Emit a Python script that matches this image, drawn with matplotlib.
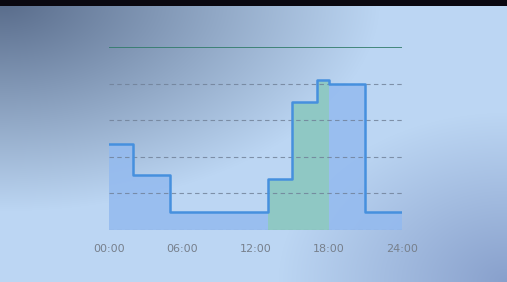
import numpy as np
import matplotlib.pyplot as plt

# step values (hour where each step starts, value)
hours = [0, 2, 5, 13, 15, 17, 18, 21, 24]
values = [2.35, 1.5, 0.5, 1.4, 3.5, 4.1, 4.0, 0.5, 0.5]
peak_start = 13
peak_end = 18
tick_hours = [0, 6, 12, 18, 24]
tick_labels = ['00:00', '06:00', '12:00', '18:00', '24:00']
grid_levels = [0, 1, 2, 3, 4]
top_level = 5

fig = plt.figure(figsize=(5.07, 2.82), dpi=100)

# background gradient
bg = fig.add_axes([0, 0, 1, 1])
h, w = 282, 507
yy, xx = np.mgrid[0:1:h * 1j, 0:1:w * 1j]
base = np.array([0xbc, 0xd6, 0xf3]) / 255
dark = np.array([0x58, 0x6b, 0x8a]) / 255
br = np.array([0x88, 0xa0, 0xcc]) / 255
d_tl = np.clip(1 - np.sqrt((xx / 0.75) ** 2 + (yy / 0.75) ** 2), 0, 1)[..., None]
d_br = np.clip(1 - np.sqrt(((1 - xx) / 0.45) ** 2 + ((1 - yy) / 0.6) ** 2), 0, 1)[..., None]
img = base * (1 - d_tl) + dark * d_tl
img = img * (1 - d_br) + br * d_br
img[:6] = np.array([0x0a, 0x08, 0x10]) / 255
bg.imshow(img, aspect='auto', extent=[0, 1, 0, 1], origin='upper')
bg.axis('off')

ax = fig.add_axes([109 / 507, 52 / 282, 293 / 507, 183 / 282])
ax.patch.set_alpha(0)

x = np.array(hours)
y = np.array(values)
ax.fill_between(x, y, step='post', color='#93baef', alpha=0.85, lw=0, zorder=2)
mask = (x >= peak_start) & (x <= peak_end)
ax.fill_between(x, y, where=mask, step='post', color='#8fc8c4', lw=0, zorder=3)

for lv in grid_levels:
    ax.axhline(lv, color='#6f7f96', lw=0.8, ls=(0, (4, 3)), alpha=0.8, zorder=3.5)
ax.axhline(top_level, color='#2f7a68', lw=1.2, zorder=3.5)

ax.step(x, y, where='post', color='#4690de', lw=1.8, zorder=4)

ax.set_xlim(0, 24)
ax.set_ylim(0, top_level)
ax.set_xticks(tick_hours)
ax.set_xticklabels(tick_labels, color='#77808c', fontsize=8)
ax.tick_params(axis='x', length=0, pad=10)
ax.set_yticks([])
for s in ax.spines.values():
    s.set_visible(False)

fig.savefig('out.png', dpi=100)
